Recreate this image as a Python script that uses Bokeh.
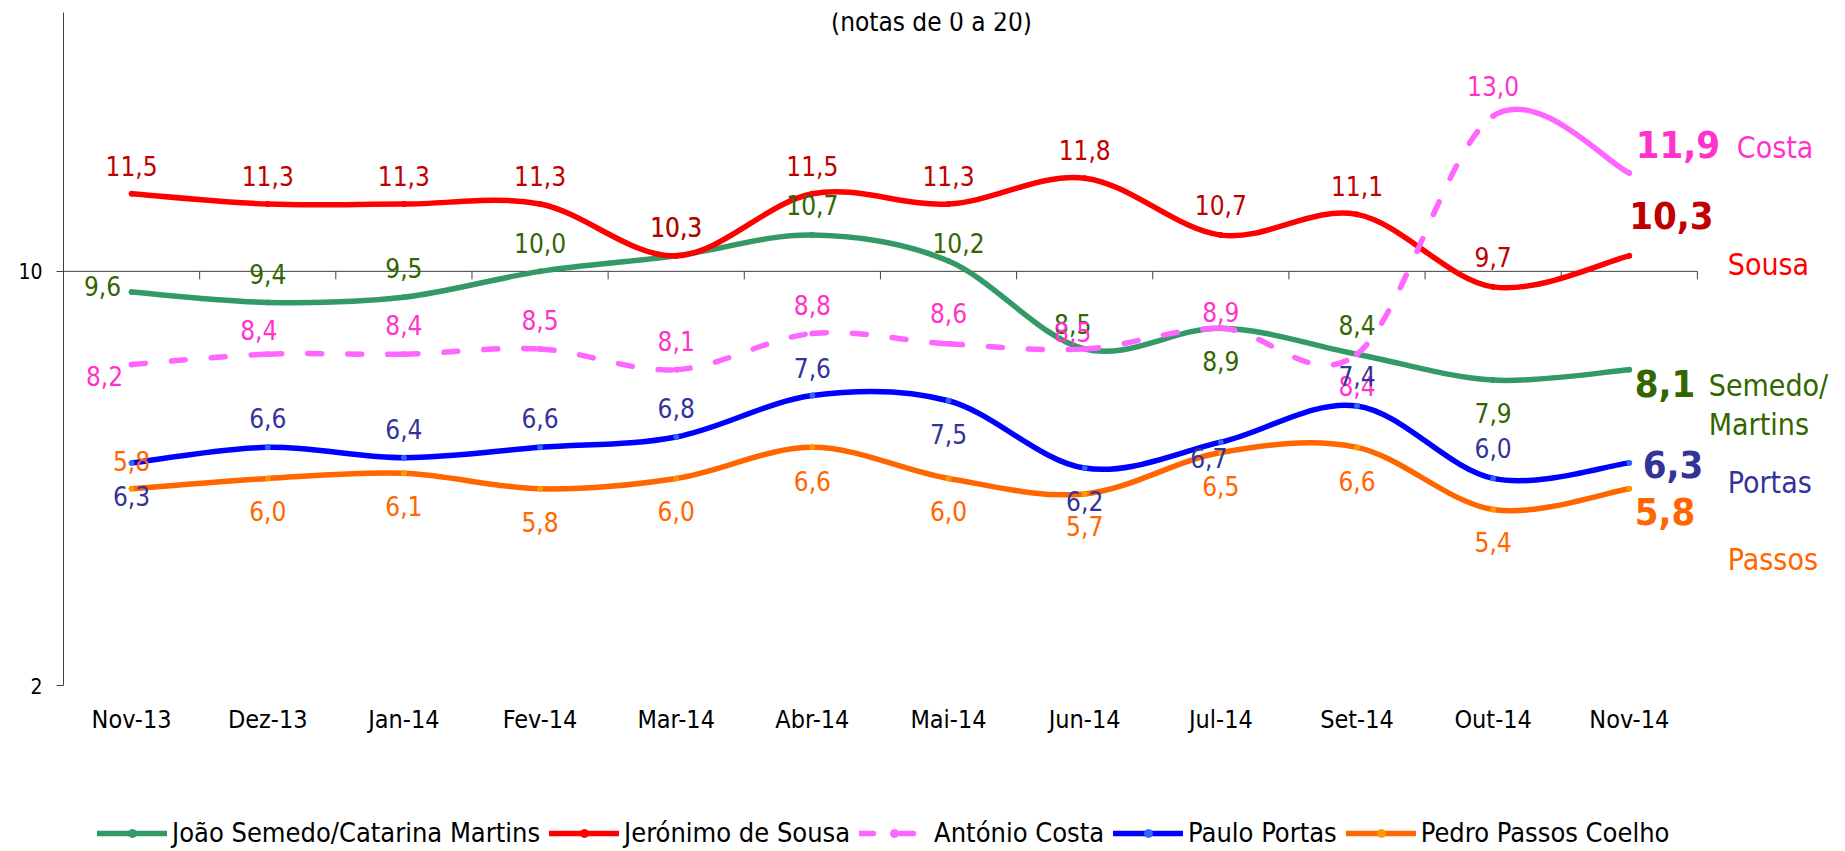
from bokeh.plotting import figure
from bokeh.layouts import column
from bokeh.models import Range1d, FixedTicker, Legend, LegendItem, Label, ColumnDataSource
from bokeh.core.properties import value
from bokeh.embed import file_html
from bokeh.resources import INLINE

# ---------------- data ----------------
months = ["Nov-13", "Dez-13", "Jan-14", "Fev-14", "Mar-14", "Abr-14",
          "Mai-14", "Jun-14", "Jul-14", "Set-14", "Out-14", "Nov-14"]
semedo = [9.6, 9.4, 9.5, 10.0, 10.3, 10.7, 10.2, 8.5, 8.9, 8.4, 7.9, 8.1]
sousa = [11.5, 11.3, 11.3, 11.3, 10.3, 11.5, 11.3, 11.8, 10.7, 11.1, 9.7, 10.3]
costa = [8.2, 8.4, 8.4, 8.5, 8.1, 8.8, 8.6, 8.5, 8.9, 8.4, 13.0, 11.9]
portas = [6.3, 6.6, 6.4, 6.6, 6.8, 7.6, 7.5, 6.2, 6.7, 7.4, 6.0, 6.3]
passos = [5.8, 6.0, 6.1, 5.8, 6.0, 6.6, 6.0, 5.7, 6.5, 6.6, 5.4, 5.8]
legend_names = ["João Semedo/Catarina Martins", "Jerónimo de Sousa", "António Costa",
                "Paulo Portas", "Pedro Passos Coelho"]
short_names = ["Semedo/\nMartins", "Sousa", "Costa", "Portas", "Passos"]
y_ticks = [2, 10]
y_min, y_max = 2, 15
x_axis_crossing = 10
title_text = "(notas de 0 a 20)"

# ---------------- styles / label placement ----------------
FONT = "DejaVu Sans Condensed"
line_colors = ["#339966", "#FF0000", "#FF66FF", "#0000FF", "#FF6600"]
marker_colors = ["#339966", "#FF0000", "#FF66FF", "#3366FF", "#FF9900"]
label_colors = ["#336600", "#C00000", "#FF33CC", "#333399", "#FF6600"]
name_colors = ["#336600", "#FF0000", "#FF33CC", "#333399", "#FF6600"]

lab_dx = [
    [-29, 0, 0, 0, 0, 0, 10, -12, 0, 0, 0],
    [0, 0, 0, 0, 0, 0, 0, 0, 0, 0, 0],
    [-27, -9, 0, 0, 0, 0, 0, -12, 0, 0, 0],
    [0, 0, 0, 0, 0, 0, 0, 0, -12, 0, 0],
    [0, 0, 0, 0, 0, 0, 0, 0, 0, 0, 0],
]
lab_dy = [
    [-6, -28, -29, -28, -29, -30, -18, -25, 33, -29, 33],
    [-28, -28, -28, -28, -29, -28, -28, -28, -30, -28, -30],
    [11, -24, -29, -29, -29, -28, -31, -17, -16, 32, -30],
    [33, -29, -29, -29, -29, -28, 33, 33, 16, -30, -30],
    [-28, 33, 33, 33, 33, 34, 33, 32, 33, 34, 33],
]
big_dx = [5.5, 0, 6.5, 13.5, 5.5]
big_dy = [14, -40, -28, 2, 23]
name_dx = [79.5, 98.5, 107.5, 98.5, 98.5]
name_dy = [35, 9, -25, 20, 71]

series = [semedo, sousa, costa, portas, passos]
n = len(months)
xs = list(range(n))

p = figure(width=1845, height=800,
           x_range=Range1d(-0.5, 12.588), y_range=Range1d(y_min, y_max),
           output_backend="svg", toolbar_location=None,
           min_border_left=63, min_border_right=0, min_border_top=12, min_border_bottom=115)
p.outline_line_color = None
p.xgrid.visible = False
p.ygrid.visible = False
p.background_fill_color = "white"

# y axis
p.yaxis.ticker = FixedTicker(ticks=y_ticks)
p.yaxis.axis_line_color = "#404040"
p.yaxis.major_tick_line_color = "#404040"
p.yaxis.major_tick_out = 7
p.yaxis.major_tick_in = 0
p.yaxis.minor_tick_line_color = None
p.yaxis.major_label_text_font = FONT
p.yaxis.major_label_text_font_size = "21px"
p.yaxis.major_label_text_color = "black"
p.yaxis.major_label_standoff = 14

# x axis (labels only)
p.xaxis.ticker = FixedTicker(ticks=xs)
p.xaxis.major_label_overrides = {i: m for i, m in enumerate(months)}
p.xaxis.axis_line_color = None
p.xaxis.major_tick_line_color = None
p.xaxis.minor_tick_line_color = None
p.xaxis.major_tick_out = 0
p.xaxis.major_label_text_font = FONT
p.xaxis.major_label_text_font_size = "25px"
p.xaxis.major_label_text_color = "black"
p.xaxis.major_label_standoff = 19

# category axis line crossing at 10, with tick marks at category boundaries
tick_len = 8 / 51.77
bounds = [i + 0.5 for i in range(n)]
p.segment(x0=[-0.5], y0=[x_axis_crossing], x1=[n - 0.5], y1=[x_axis_crossing],
          line_color="#404040", line_width=1)
p.segment(x0=bounds, y0=[x_axis_crossing] * n, x1=bounds, y1=[x_axis_crossing - tick_len] * n,
          line_color="#404040", line_width=1)


def bezier_source(vals, lo, hi):
    P = list(zip(xs, vals))
    d = dict(x0=[], y0=[], x1=[], y1=[], cx0=[], cy0=[], cx1=[], cy1=[])
    for i in range(lo, hi):
        pm = P[max(i - 1, 0)]
        p0 = P[i]
        p1 = P[i + 1]
        p2 = P[min(i + 2, n - 1)]
        d["x0"].append(p0[0]); d["y0"].append(p0[1])
        d["x1"].append(p1[0]); d["y1"].append(p1[1])
        d["cx0"].append(p0[0] + (p1[0] - pm[0]) / 6)
        d["cy0"].append(p0[1] + (p1[1] - pm[1]) / 6)
        d["cx1"].append(p1[0] - (p2[0] - p0[0]) / 6)
        d["cy1"].append(p1[1] - (p2[1] - p0[1]) / 6)
    return ColumnDataSource(d)


# legend lives in its own strip below the chart
leg = figure(width=1845, height=51, output_backend="svg", toolbar_location=None,
             x_axis_location=None, y_axis_location=None,
             x_range=Range1d(0, 1), y_range=Range1d(0, 1),
             min_border_left=0, min_border_right=0, min_border_top=0, min_border_bottom=0)
leg.outline_line_color = None
leg.xgrid.visible = False
leg.ygrid.visible = False

NAN = float("nan")
LW = 5.5
items = []
for k, vals in enumerate(series):
    col = line_colors[k]
    if k == 2:
        p.bezier(x0="x0", y0="y0", x1="x1", y1="y1", cx0="cx0", cy0="cy0", cx1="cx1", cy1="cy1",
                 source=bezier_source(vals, 0, n - 2), line_color=col, line_width=LW,
                 line_dash="14 26", line_cap="round")
        p.bezier(x0="x0", y0="y0", x1="x1", y1="y1", cx0="cx0", cy0="cy0", cx1="cx1", cy1="cy1",
                 source=bezier_source(vals, n - 2, n - 1), line_color=col, line_width=LW,
                 line_cap="round")
        dash = "14 26"
    else:
        p.bezier(x0="x0", y0="y0", x1="x1", y1="y1", cx0="cx0", cy0="cy0", cx1="cx1", cy1="cy1",
                 source=bezier_source(vals, 0, n - 1), line_color=col, line_width=LW,
                 line_cap="round")
        dash = "solid"
    p.scatter(x=xs, y=vals, size=5, marker="circle", fill_color=marker_colors[k],
              line_color=marker_colors[k])
    # legend proxies (a single NaN point, never drawn in the strip itself)
    proxy_line = leg.line(x=[NAN], y=[NAN], line_color=col, line_width=LW, line_dash=dash,
                          line_cap="round")
    proxy_mk = leg.scatter(x=[NAN], y=[NAN], size=5, marker="circle",
                           fill_color=marker_colors[k], line_color=marker_colors[k])
    items.append(LegendItem(label=legend_names[k], renderers=[proxy_line, proxy_mk]))


def fmt(v):
    return f"{v:.1f}".replace(".", ",")


# data labels
for k, vals in enumerate(series):
    src = ColumnDataSource(dict(x=xs[:-1], y=vals[:-1], t=[fmt(v) for v in vals[:-1]],
                                dx=lab_dx[k], dy=lab_dy[k]))
    p.text(x="x", y="y", text="t", x_offset="dx", y_offset="dy", source=src,
           text_color=label_colors[k], text_font=value(FONT), text_font_size="26px",
           text_align="center", text_baseline="middle")

# big final values and short names
src_big = ColumnDataSource(dict(x=[xs[-1]] * 5, y=[s[-1] for s in series],
                                t=[fmt(s[-1]) for s in series], dx=big_dx, dy=big_dy,
                                c=label_colors))
p.text(x="x", y="y", text="t", x_offset="dx", y_offset="dy", source=src_big,
       text_color="c", text_font=value(FONT), text_font_size="38px", text_font_style="bold",
       text_align="left", text_baseline="middle")
src_name = ColumnDataSource(dict(x=[xs[-1]] * 5, y=[s[-1] for s in series],
                                 t=short_names, dx=name_dx, dy=name_dy, c=name_colors))
p.text(x="x", y="y", text="t", x_offset="dx", y_offset="dy", source=src_name,
       text_color="c", text_font=value(FONT), text_font_size="30px",
       text_align="left", text_baseline="middle", text_line_height=1.12)

legend = Legend(items=items, orientation="horizontal", location=(34, 3),
                glyph_width=70, glyph_height=20, label_standoff=5, spacing=9,
                padding=0, margin=0, border_line_color=None, background_fill_alpha=0,
                label_text_font=FONT, label_text_font_size="27px", label_height=30,
                label_text_color="black")
leg.add_layout(legend)

title = Label(x=868, y=664, x_units="screen", y_units="screen", text=title_text,
              text_align="center", text_baseline="alphabetic", text_font=FONT,
              text_font_size="26px", text_color="black")
p.add_layout(title)

open("out.html", "w").write(file_html(column(p, leg), INLINE))
